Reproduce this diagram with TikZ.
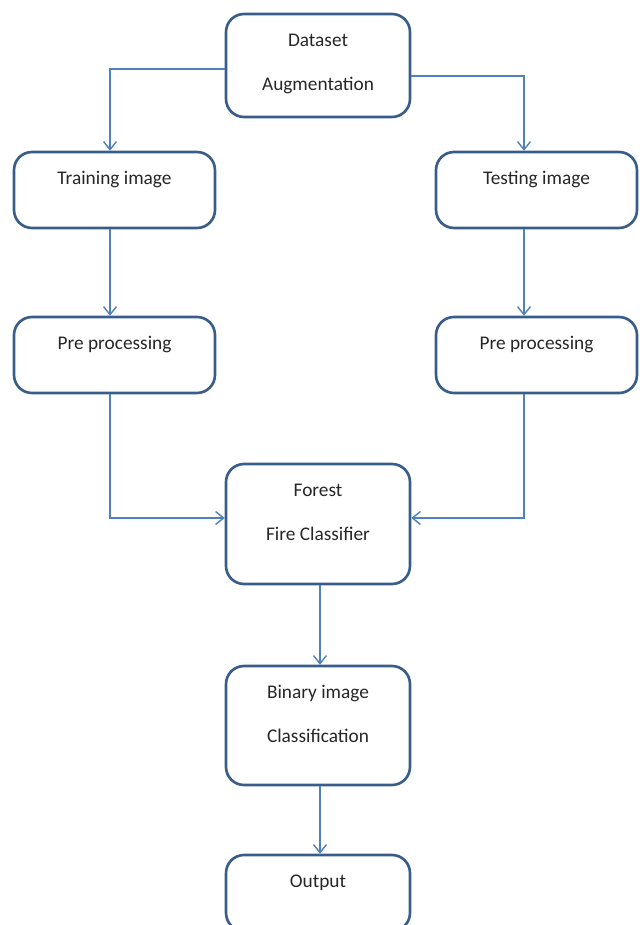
\documentclass[tikz,border=0pt]{standalone}
\usepackage{fontspec}
\setmainfont{Carlito}
\usetikzlibrary{arrows.meta,positioning}
\definecolor{boxblue}{RGB}{56,93,138}
\definecolor{linkblue}{RGB}{79,129,189}
\tikzset{
    flowbox/.style={draw=boxblue, line width=1.5pt, rounded corners=0.36cm, align=center,
        font=\fontsize{11pt}{25pt}\selectfont, text=black!85, inner xsep=0pt,
        inner ysep=0.37cm, text height=0.28cm},
    sidebox/.style={flowbox, minimum width=4.02cm, text depth=0.5cm},
    midbox/.style={flowbox, minimum width=3.68cm},
    twoline/.style={text height=1.16cm, text depth=#1},
    flowarrow/.style={-{Straight Barb[length=1.6mm,width=2.6mm]}, draw=linkblue, line width=0.8pt}
}

\begin{document}
\begin{tikzpicture}[x=0.02cm, y=-0.02cm]
\useasboundingbox (0,0) rectangle (642,925);
\node[midbox, twoline=0.16cm] (data) at (318,65.5) {Dataset\\Augmentation};
\node[sidebox] (train) at (114.5,190) {Training image};
\node[sidebox] (test) at (536.5,190) {Testing image};
\node[sidebox] (preL) at (114.5,355) {Pre processing};
\node[sidebox] (preR) at (536.5,355) {Pre processing};
\node[midbox, twoline=0.5cm] (forest) at (318,524) {Forest\\Fire Classifier};
\node[midbox, twoline=0.48cm] (binary) at (318,725.5) {Binary image\\Classification};
\node[midbox, text depth=0.5cm] (output) at (318,893) {Output};
% connectors
\draw[flowarrow] ([yshift=-0.07cm]data.west) -| ([xshift=-0.09cm]train.north);
\draw[flowarrow] ([yshift=-0.21cm]data.east) -| ([xshift=-0.25cm]test.north);
\draw[flowarrow] ([xshift=-0.09cm]train.south) -- ([xshift=-0.09cm]preL.north);
\draw[flowarrow] ([xshift=-0.25cm]test.south) -- ([xshift=-0.25cm]preR.north);
\draw[flowarrow] ([xshift=-0.09cm]preL.south) |- ([yshift=0.12cm]forest.west);
\draw[flowarrow] ([xshift=-0.25cm]preR.south) |- ([yshift=0.12cm]forest.east);
\draw[flowarrow] ([xshift=0.04cm]forest.south) -- ([xshift=0.04cm]binary.north);
\draw[flowarrow] ([xshift=0.04cm]binary.south) -- ([xshift=0.04cm]output.north);
\end{tikzpicture}
\end{document}
